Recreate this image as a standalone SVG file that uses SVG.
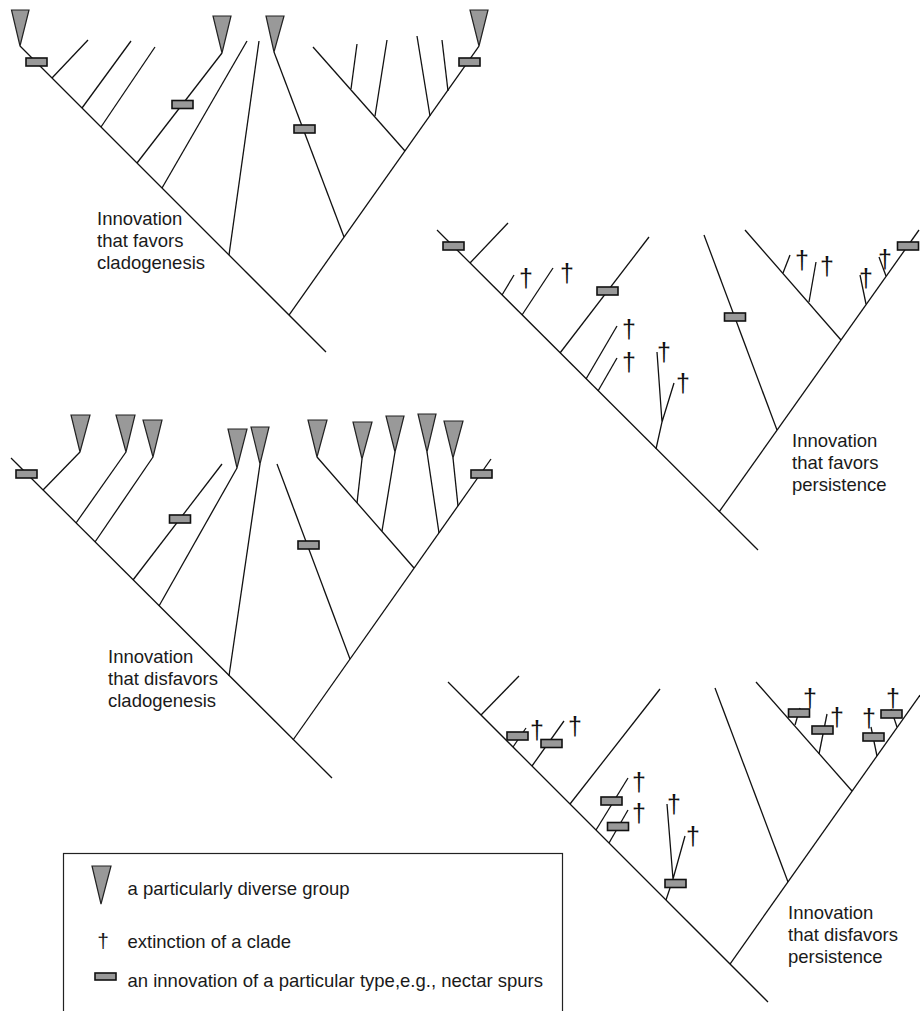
<svg xmlns="http://www.w3.org/2000/svg" width="920" height="1011" viewBox="0 0 920 1011">
<style>
.ln{stroke:#111;stroke-width:1.3;fill:none;stroke-linecap:butt}
.tri{fill:#999;stroke:#222;stroke-width:1.2;stroke-linejoin:miter}
.inn{fill:#999;stroke:#111;stroke-width:1.6}
.dag{font-family:"Liberation Sans",Arial,sans-serif;font-size:25px;fill:#111;text-anchor:middle}
.lbl{font-family:"Liberation Sans",Arial,sans-serif;font-size:18.5px;fill:#1a1a1a}
</style>
<defs>
<rect id="r" x="-10.5" y="-4" width="21" height="8"/>
</defs>
<rect width="920" height="1011" fill="#fff"/>

<!-- Tree 1: favors cladogenesis -->
<g id="tree1">
<g id="tree1-connectors" class="ln">
<path d="M20,46 L326,352"/>
<path d="M289,315 L479,46"/>
<path d="M52,78 L88,40"/>
<path d="M82,108 L131,41"/>
<path d="M101,127 L155,47"/>
<path d="M137,163 L222,53"/>
<path d="M162,188 L247,41"/>
<path d="M229,255 L259,41"/>
<path d="M344,237 L274,52"/>
<path d="M405,151 L313,47"/>
<path d="M351,89 L357,44"/>
<path d="M375,116 L387,40"/>
<path d="M430,116 L417,36"/>
<path d="M448,91 L442,40"/>
</g>
<g id="tree1-groups">
<polygon class="tri" points="11.5,10 29,10 20,46"/>
<polygon class="tri" points="213,16 231,16 222,53"/>
<polygon class="tri" points="266,16 284,16 274,52"/>
<polygon class="tri" points="470,10 488,10 479,46"/>
</g>
<g id="tree1-innovations" class="inn">
<use href="#r" x="36.5" y="62"/>
<use href="#r" x="182.5" y="104.5"/>
<use href="#r" x="304.5" y="129"/>
<use href="#r" x="469.5" y="62"/>
</g>
<text id="tree1-label" class="lbl" x="97" y="225"><tspan x="97">Innovation</tspan><tspan x="97" dy="22">that favors</tspan><tspan x="97" dy="22">cladogenesis</tspan></text>
</g>

<!-- Tree 2: favors persistence -->
<g id="tree2">
<g id="tree2-connectors" class="ln">
<path d="M437,230 L758,550"/>
<path d="M719,512 L919,230"/>
<path d="M470,263 L508,223"/>
<path d="M502,295 L514,275"/>
<path d="M522,315 L553,268"/>
<path d="M560,353 L649,237"/>
<path d="M586,379 L617,326"/>
<path d="M598,391 L617,358"/>
<path d="M656,449 L662,422 L657,352 M662,422 L674,383"/>
<path d="M777,430 L704,235"/>
<path d="M841,340 L745,230"/>
<path d="M783,273 L790,255"/>
<path d="M809,302 L816,262"/>
<path d="M866,304 L860,275"/>
<path d="M886,276 L879,257"/>
</g>
<g id="tree2-innovations" class="inn">
<use href="#r" x="453.5" y="246"/>
<use href="#r" x="607.5" y="291"/>
<use href="#r" x="735" y="317"/>
<use href="#r" x="908" y="246"/>
</g>
<g id="tree2-extinctions" class="dag">
<text x="526" y="287">†</text>
<text x="567" y="282">†</text>
<text x="629" y="338">†</text>
<text x="629" y="371">†</text>
<text x="664" y="361">†</text>
<text x="683" y="392">†</text>
<text x="802" y="269">†</text>
<text x="827" y="275">†</text>
<text x="866" y="287">†</text>
<text x="885" y="268">†</text>
</g>
<text id="tree2-label" class="lbl" x="792" y="447"><tspan x="792">Innovation</tspan><tspan x="792" dy="22">that favors</tspan><tspan x="792" dy="22">persistence</tspan></text>
</g>

<!-- Tree 3: disfavors cladogenesis -->
<g id="tree3">
<g id="tree3-connectors" class="ln">
<path d="M11,458 L332,778"/>
<path d="M293,740 L491,459"/>
<path d="M43,490 L80,452"/>
<path d="M76,523 L126,452"/>
<path d="M95,542 L153,457"/>
<path d="M133,580 L222,464"/>
<path d="M159,606 L237,468"/>
<path d="M229,676 L260,464"/>
<path d="M350,659 L277,464"/>
<path d="M414,568 L317,457"/>
<path d="M357,503 L362,459"/>
<path d="M382,531 L395,452"/>
<path d="M439,533 L427,452"/>
<path d="M458,506 L453,458"/>
</g>
<g id="tree3-groups">
<polygon class="tri" points="71,415 90,415 80,452"/>
<polygon class="tri" points="116,415 135,415 126,452"/>
<polygon class="tri" points="143,420 162,420 153,457"/>
<polygon class="tri" points="228,429 247,429 237,468"/>
<polygon class="tri" points="251,427 269,427 260,464"/>
<polygon class="tri" points="308,420 327,420 317,457"/>
<polygon class="tri" points="353,422 372,422 362,459"/>
<polygon class="tri" points="386,416 404,416 395,452"/>
<polygon class="tri" points="418,414 436,414 427,452"/>
<polygon class="tri" points="444,421 463,421 453,458"/>
</g>
<g id="tree3-innovations" class="inn">
<use href="#r" x="26.5" y="474"/>
<use href="#r" x="180" y="519"/>
<use href="#r" x="308.5" y="545"/>
<use href="#r" x="481.5" y="474"/>
</g>
<text id="tree3-label" class="lbl" x="108" y="663"><tspan x="108">Innovation</tspan><tspan x="108" dy="22">that disfavors</tspan><tspan x="108" dy="22">cladogenesis</tspan></text>
</g>

<!-- Tree 4: disfavors persistence -->
<g id="tree4">
<g id="tree4-connectors" class="ln">
<path d="M448,682 L768,1002"/>
<path d="M730,964 L920,695"/>
<path d="M481,715 L519,676"/>
<path d="M513,747 L526,728"/>
<path d="M532,766 L564,721"/>
<path d="M570,804 L660,689"/>
<path d="M596,830 L628,778"/>
<path d="M609,843 L628,810"/>
<path d="M666,900 L673,879 L667,804 M673,879 L685,836"/>
<path d="M788,882 L715,688"/>
<path d="M852,791 L756,682"/>
<path d="M795,725 L800,708"/>
<path d="M819,754 L827,714"/>
<path d="M877,756 L871,727"/>
<path d="M897,727 L891,709"/>
</g>
<g id="tree4-innovations" class="inn">
<use href="#r" x="517.5" y="736"/>
<use href="#r" x="551.5" y="743.5"/>
<use href="#r" x="611.5" y="801"/>
<use href="#r" x="618" y="826.5"/>
<use href="#r" x="675.5" y="883.5"/>
<use href="#r" x="799" y="713"/>
<use href="#r" x="822.5" y="730"/>
<use href="#r" x="873.5" y="737"/>
<use href="#r" x="891.5" y="714"/>
</g>
<g id="tree4-extinctions" class="dag">
<text x="537" y="739">†</text>
<text x="575" y="735">†</text>
<text x="639" y="791">†</text>
<text x="639" y="822">†</text>
<text x="674" y="813">†</text>
<text x="693" y="845">†</text>
<text x="810" y="707">†</text>
<text x="837" y="726">†</text>
<text x="869" y="727">†</text>
<text x="893" y="707">†</text>
</g>
<text id="tree4-label" class="lbl" x="788" y="919"><tspan x="788">Innovation</tspan><tspan x="788" dy="22">that disfavors</tspan><tspan x="788" dy="22">persistence</tspan></text>
</g>

<!-- Legend -->
<g id="legend">
<rect x="63.5" y="853.5" width="499" height="170" fill="none" stroke="#222" stroke-width="1.2"/>
<polygon class="tri" points="92,866 111,866 101,904"/>
<text class="lbl" x="127.5" y="895">a particularly diverse group</text>
<text class="lbl" x="103" y="948" text-anchor="middle" style="font-size:21px">†</text>
<text class="lbl" x="127.5" y="947.5">extinction of a clade</text>
<rect class="inn" x="95" y="973" width="21" height="7"/>
<text class="lbl" x="127.5" y="986.5">an innovation of a particular type,e.g., nectar spurs</text>
</g>
</svg>
